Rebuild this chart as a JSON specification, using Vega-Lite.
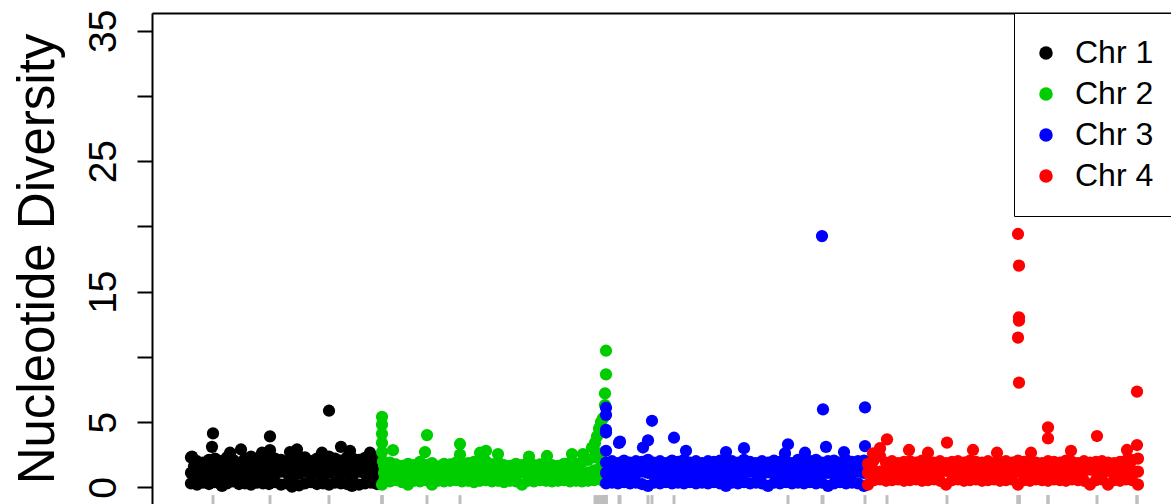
{
"$schema":"https://vega.github.io/schema/vega-lite/v6.json",
"width":1019,"height":491,
"autosize":{"type":"none"},
"padding":{"left":152,"top":13,"right":0,"bottom":0},
"background":"white",
"config":{"view":{"stroke":null},"font":"Liberation Sans"},
"data":{"values":[
{"chr":"Chr 1","pos":39,"pi":0.3},{"chr":"Chr 1","pos":39,"pi":1.1},{"chr":"Chr 1","pos":39,"pi":2.3},
{"chr":"Chr 1","pos":45,"pi":0.2},{"chr":"Chr 1","pos":45,"pi":1.0},{"chr":"Chr 1","pos":45,"pi":2.0},
{"chr":"Chr 1","pos":51,"pi":0.35},{"chr":"Chr 1","pos":51,"pi":1.2},{"chr":"Chr 1","pos":51,"pi":1.9},
{"chr":"Chr 1","pos":57,"pi":0.25},{"chr":"Chr 1","pos":57,"pi":0.9},{"chr":"Chr 1","pos":57,"pi":2.1},
{"chr":"Chr 1","pos":63,"pi":0.4},{"chr":"Chr 1","pos":63,"pi":1.3},{"chr":"Chr 1","pos":63,"pi":2.2},
{"chr":"Chr 1","pos":69,"pi":0.2},{"chr":"Chr 1","pos":69,"pi":1.0},{"chr":"Chr 1","pos":69,"pi":2.0},
{"chr":"Chr 1","pos":75,"pi":0.3},{"chr":"Chr 1","pos":75,"pi":1.1},{"chr":"Chr 1","pos":75,"pi":2.3},
{"chr":"Chr 1","pos":81,"pi":0.45},{"chr":"Chr 1","pos":81,"pi":1.2},{"chr":"Chr 1","pos":81,"pi":2.1},
{"chr":"Chr 1","pos":87,"pi":0.25},{"chr":"Chr 1","pos":87,"pi":0.95},{"chr":"Chr 1","pos":87,"pi":1.9},
{"chr":"Chr 1","pos":93,"pi":0.3},{"chr":"Chr 1","pos":93,"pi":1.15},{"chr":"Chr 1","pos":93,"pi":2.2},
{"chr":"Chr 1","pos":99,"pi":0.2},{"chr":"Chr 1","pos":99,"pi":1.05},{"chr":"Chr 1","pos":99,"pi":2.35},
{"chr":"Chr 1","pos":105,"pi":0.35},{"chr":"Chr 1","pos":105,"pi":1.25},{"chr":"Chr 1","pos":105,"pi":2.1},
{"chr":"Chr 1","pos":111,"pi":0.3},{"chr":"Chr 1","pos":111,"pi":0.9},{"chr":"Chr 1","pos":111,"pi":2.0},
{"chr":"Chr 1","pos":117,"pi":0.25},{"chr":"Chr 1","pos":117,"pi":1.1},{"chr":"Chr 1","pos":117,"pi":2.3},
{"chr":"Chr 1","pos":123,"pi":0.4},{"chr":"Chr 1","pos":123,"pi":1.0},{"chr":"Chr 1","pos":123,"pi":2.2},
{"chr":"Chr 1","pos":129,"pi":0.2},{"chr":"Chr 1","pos":129,"pi":1.2},{"chr":"Chr 1","pos":129,"pi":2.1},
{"chr":"Chr 1","pos":135,"pi":0.3},{"chr":"Chr 1","pos":135,"pi":1.1},{"chr":"Chr 1","pos":135,"pi":1.95},
{"chr":"Chr 1","pos":141,"pi":0.35},{"chr":"Chr 1","pos":141,"pi":0.95},{"chr":"Chr 1","pos":141,"pi":2.2},
{"chr":"Chr 1","pos":147,"pi":0.15},{"chr":"Chr 1","pos":147,"pi":1.05},{"chr":"Chr 1","pos":147,"pi":2.1},
{"chr":"Chr 1","pos":153,"pi":0.3},{"chr":"Chr 1","pos":153,"pi":1.2},{"chr":"Chr 1","pos":153,"pi":2.3},
{"chr":"Chr 1","pos":159,"pi":0.4},{"chr":"Chr 1","pos":159,"pi":1.0},{"chr":"Chr 1","pos":159,"pi":2.0},
{"chr":"Chr 1","pos":165,"pi":0.25},{"chr":"Chr 1","pos":165,"pi":1.15},{"chr":"Chr 1","pos":165,"pi":2.2},
{"chr":"Chr 1","pos":171,"pi":0.3},{"chr":"Chr 1","pos":171,"pi":0.9},{"chr":"Chr 1","pos":171,"pi":2.1},
{"chr":"Chr 1","pos":177,"pi":0.2},{"chr":"Chr 1","pos":177,"pi":1.1},{"chr":"Chr 1","pos":177,"pi":2.35},
{"chr":"Chr 1","pos":183,"pi":0.35},{"chr":"Chr 1","pos":183,"pi":1.25},{"chr":"Chr 1","pos":183,"pi":2.2},
{"chr":"Chr 1","pos":189,"pi":0.3},{"chr":"Chr 1","pos":189,"pi":1.0},{"chr":"Chr 1","pos":189,"pi":2.05},
{"chr":"Chr 1","pos":195,"pi":0.25},{"chr":"Chr 1","pos":195,"pi":1.1},{"chr":"Chr 1","pos":195,"pi":2.3},
{"chr":"Chr 1","pos":201,"pi":0.4},{"chr":"Chr 1","pos":201,"pi":0.95},{"chr":"Chr 1","pos":201,"pi":2.2},
{"chr":"Chr 1","pos":207,"pi":0.2},{"chr":"Chr 1","pos":207,"pi":1.2},{"chr":"Chr 1","pos":207,"pi":2.1},
{"chr":"Chr 1","pos":213,"pi":0.3},{"chr":"Chr 1","pos":213,"pi":1.05},{"chr":"Chr 1","pos":213,"pi":2.25},
{"chr":"Chr 1","pos":219,"pi":0.35},{"chr":"Chr 1","pos":219,"pi":1.15},{"chr":"Chr 1","pos":219,"pi":2.0},
{"chr":"Chr 1","pos":225,"pi":0.25},{"chr":"Chr 1","pos":225,"pi":1.0},{"chr":"Chr 1","pos":225,"pi":2.2},
{"chr":"Chr 1","pos":229,"pi":0.3},{"chr":"Chr 1","pos":229,"pi":1.1},{"chr":"Chr 1","pos":229,"pi":2.1},
{"chr":"Chr 1","pos":42,"pi":1.6},{"chr":"Chr 1","pos":48,"pi":1.7},{"chr":"Chr 1","pos":54,"pi":1.55},
{"chr":"Chr 1","pos":60,"pi":1.65},{"chr":"Chr 1","pos":66,"pi":1.75},{"chr":"Chr 1","pos":72,"pi":1.5},
{"chr":"Chr 1","pos":78,"pi":1.6},{"chr":"Chr 1","pos":84,"pi":1.7},{"chr":"Chr 1","pos":90,"pi":1.65},
{"chr":"Chr 1","pos":96,"pi":1.55},{"chr":"Chr 1","pos":102,"pi":1.75},{"chr":"Chr 1","pos":108,"pi":1.6},
{"chr":"Chr 1","pos":114,"pi":1.5},{"chr":"Chr 1","pos":120,"pi":1.7},{"chr":"Chr 1","pos":126,"pi":1.65},
{"chr":"Chr 1","pos":132,"pi":1.6},{"chr":"Chr 1","pos":138,"pi":1.55},{"chr":"Chr 1","pos":144,"pi":1.75},
{"chr":"Chr 1","pos":150,"pi":1.6},{"chr":"Chr 1","pos":156,"pi":1.7},{"chr":"Chr 1","pos":162,"pi":1.5},
{"chr":"Chr 1","pos":168,"pi":1.65},{"chr":"Chr 1","pos":174,"pi":1.6},{"chr":"Chr 1","pos":180,"pi":1.75},
{"chr":"Chr 1","pos":186,"pi":1.55},{"chr":"Chr 1","pos":192,"pi":1.7},{"chr":"Chr 1","pos":198,"pi":1.6},
{"chr":"Chr 1","pos":204,"pi":1.65},{"chr":"Chr 1","pos":210,"pi":1.5},{"chr":"Chr 1","pos":216,"pi":1.7},
{"chr":"Chr 1","pos":222,"pi":1.6},
{"chr":"Chr 1","pos":61,"pi":4.13},{"chr":"Chr 1","pos":60,"pi":3.1},{"chr":"Chr 1","pos":78,"pi":2.65},
{"chr":"Chr 1","pos":89,"pi":2.9},{"chr":"Chr 1","pos":110,"pi":2.65},{"chr":"Chr 1","pos":118,"pi":3.9},
{"chr":"Chr 1","pos":118,"pi":2.85},{"chr":"Chr 1","pos":138,"pi":2.7},{"chr":"Chr 1","pos":145,"pi":2.9},
{"chr":"Chr 1","pos":177,"pi":5.87},{"chr":"Chr 1","pos":170,"pi":2.65},{"chr":"Chr 1","pos":189,"pi":3.1},
{"chr":"Chr 1","pos":198,"pi":2.8},{"chr":"Chr 1","pos":218,"pi":2.65},{"chr":"Chr 1","pos":40,"pi":2.35},
{"chr":"Chr 1","pos":70,"pi":0.1},{"chr":"Chr 1","pos":140,"pi":0.05},{"chr":"Chr 1","pos":200,"pi":0.1},
{"chr":"Chr 2","pos":232,"pi":0.5},{"chr":"Chr 2","pos":232,"pi":1.1},{"chr":"Chr 2","pos":232,"pi":1.7},
{"chr":"Chr 2","pos":238,"pi":0.45},{"chr":"Chr 2","pos":238,"pi":1.2},{"chr":"Chr 2","pos":238,"pi":1.9},
{"chr":"Chr 2","pos":244,"pi":0.55},{"chr":"Chr 2","pos":244,"pi":1.05},{"chr":"Chr 2","pos":244,"pi":1.75},
{"chr":"Chr 2","pos":250,"pi":0.4},{"chr":"Chr 2","pos":250,"pi":1.15},{"chr":"Chr 2","pos":250,"pi":1.65},
{"chr":"Chr 2","pos":256,"pi":0.2},{"chr":"Chr 2","pos":256,"pi":1.0},{"chr":"Chr 2","pos":256,"pi":1.8},
{"chr":"Chr 2","pos":262,"pi":0.5},{"chr":"Chr 2","pos":262,"pi":1.1},{"chr":"Chr 2","pos":262,"pi":1.7},
{"chr":"Chr 2","pos":268,"pi":0.45},{"chr":"Chr 2","pos":268,"pi":1.2},{"chr":"Chr 2","pos":268,"pi":1.95},
{"chr":"Chr 2","pos":274,"pi":0.55},{"chr":"Chr 2","pos":274,"pi":1.05},{"chr":"Chr 2","pos":274,"pi":1.7},
{"chr":"Chr 2","pos":280,"pi":0.2},{"chr":"Chr 2","pos":280,"pi":1.1},{"chr":"Chr 2","pos":280,"pi":1.85},
{"chr":"Chr 2","pos":286,"pi":0.5},{"chr":"Chr 2","pos":286,"pi":1.15},{"chr":"Chr 2","pos":286,"pi":1.6},
{"chr":"Chr 2","pos":292,"pi":0.45},{"chr":"Chr 2","pos":292,"pi":1.0},{"chr":"Chr 2","pos":292,"pi":1.8},
{"chr":"Chr 2","pos":298,"pi":0.5},{"chr":"Chr 2","pos":298,"pi":1.2},{"chr":"Chr 2","pos":298,"pi":1.75},
{"chr":"Chr 2","pos":304,"pi":0.55},{"chr":"Chr 2","pos":304,"pi":1.1},{"chr":"Chr 2","pos":304,"pi":1.9},
{"chr":"Chr 2","pos":310,"pi":0.45},{"chr":"Chr 2","pos":310,"pi":1.05},{"chr":"Chr 2","pos":310,"pi":1.7},
{"chr":"Chr 2","pos":316,"pi":0.5},{"chr":"Chr 2","pos":316,"pi":1.15},{"chr":"Chr 2","pos":316,"pi":1.85},
{"chr":"Chr 2","pos":322,"pi":0.4},{"chr":"Chr 2","pos":322,"pi":1.1},{"chr":"Chr 2","pos":322,"pi":1.95},
{"chr":"Chr 2","pos":328,"pi":0.5},{"chr":"Chr 2","pos":328,"pi":1.0},{"chr":"Chr 2","pos":328,"pi":1.8},
{"chr":"Chr 2","pos":334,"pi":0.55},{"chr":"Chr 2","pos":334,"pi":1.2},{"chr":"Chr 2","pos":334,"pi":2.0},
{"chr":"Chr 2","pos":340,"pi":0.45},{"chr":"Chr 2","pos":340,"pi":1.1},{"chr":"Chr 2","pos":340,"pi":1.75},
{"chr":"Chr 2","pos":346,"pi":0.5},{"chr":"Chr 2","pos":346,"pi":1.05},{"chr":"Chr 2","pos":346,"pi":1.9},
{"chr":"Chr 2","pos":352,"pi":0.4},{"chr":"Chr 2","pos":352,"pi":1.15},{"chr":"Chr 2","pos":352,"pi":1.7},
{"chr":"Chr 2","pos":358,"pi":0.5},{"chr":"Chr 2","pos":358,"pi":1.1},{"chr":"Chr 2","pos":358,"pi":1.65},
{"chr":"Chr 2","pos":364,"pi":0.45},{"chr":"Chr 2","pos":364,"pi":1.0},{"chr":"Chr 2","pos":364,"pi":1.8},
{"chr":"Chr 2","pos":370,"pi":0.2},{"chr":"Chr 2","pos":370,"pi":1.15},{"chr":"Chr 2","pos":370,"pi":1.7},
{"chr":"Chr 2","pos":376,"pi":0.5},{"chr":"Chr 2","pos":376,"pi":1.1},{"chr":"Chr 2","pos":376,"pi":1.85},
{"chr":"Chr 2","pos":382,"pi":0.45},{"chr":"Chr 2","pos":382,"pi":1.05},{"chr":"Chr 2","pos":382,"pi":1.7},
{"chr":"Chr 2","pos":388,"pi":0.55},{"chr":"Chr 2","pos":388,"pi":1.2},{"chr":"Chr 2","pos":388,"pi":1.75},
{"chr":"Chr 2","pos":394,"pi":0.5},{"chr":"Chr 2","pos":394,"pi":1.1},{"chr":"Chr 2","pos":394,"pi":1.9},
{"chr":"Chr 2","pos":400,"pi":0.45},{"chr":"Chr 2","pos":400,"pi":1.0},{"chr":"Chr 2","pos":400,"pi":1.7},
{"chr":"Chr 2","pos":406,"pi":0.5},{"chr":"Chr 2","pos":406,"pi":1.15},{"chr":"Chr 2","pos":406,"pi":1.65},
{"chr":"Chr 2","pos":412,"pi":0.55},{"chr":"Chr 2","pos":412,"pi":1.1},{"chr":"Chr 2","pos":412,"pi":1.8},
{"chr":"Chr 2","pos":418,"pi":0.45},{"chr":"Chr 2","pos":418,"pi":1.05},{"chr":"Chr 2","pos":418,"pi":1.9},
{"chr":"Chr 2","pos":424,"pi":0.5},{"chr":"Chr 2","pos":424,"pi":1.2},{"chr":"Chr 2","pos":424,"pi":1.8},
{"chr":"Chr 2","pos":430,"pi":0.45},{"chr":"Chr 2","pos":430,"pi":1.1},{"chr":"Chr 2","pos":430,"pi":1.95},
{"chr":"Chr 2","pos":436,"pi":0.5},{"chr":"Chr 2","pos":436,"pi":1.15},{"chr":"Chr 2","pos":436,"pi":2.1},
{"chr":"Chr 2","pos":442,"pi":0.55},{"chr":"Chr 2","pos":442,"pi":1.3},{"chr":"Chr 2","pos":442,"pi":2.3},
{"chr":"Chr 2","pos":448,"pi":0.6},{"chr":"Chr 2","pos":448,"pi":1.5},{"chr":"Chr 2","pos":448,"pi":2.6},
{"chr":"Chr 2","pos":230,"pi":5.4},{"chr":"Chr 2","pos":230,"pi":4.8},{"chr":"Chr 2","pos":230,"pi":4.1},
{"chr":"Chr 2","pos":230,"pi":3.4},{"chr":"Chr 2","pos":230,"pi":2.7},{"chr":"Chr 2","pos":231,"pi":2.0},
{"chr":"Chr 2","pos":230,"pi":0.2},{"chr":"Chr 2","pos":241,"pi":2.85},{"chr":"Chr 2","pos":275,"pi":4.0},
{"chr":"Chr 2","pos":273,"pi":2.7},{"chr":"Chr 2","pos":308,"pi":3.32},{"chr":"Chr 2","pos":308,"pi":2.5},
{"chr":"Chr 2","pos":328,"pi":2.65},{"chr":"Chr 2","pos":334,"pi":2.8},{"chr":"Chr 2","pos":346,"pi":2.55},
{"chr":"Chr 2","pos":377,"pi":2.35},{"chr":"Chr 2","pos":395,"pi":2.4},{"chr":"Chr 2","pos":420,"pi":2.55},
{"chr":"Chr 2","pos":431,"pi":2.55},{"chr":"Chr 2","pos":440,"pi":3.05},{"chr":"Chr 2","pos":445,"pi":3.9},
{"chr":"Chr 2","pos":443,"pi":3.4},{"chr":"Chr 2","pos":447,"pi":4.5},{"chr":"Chr 2","pos":449,"pi":5.0},
{"chr":"Chr 2","pos":451,"pi":5.28},{"chr":"Chr 2","pos":453,"pi":6.3},{"chr":"Chr 2","pos":453,"pi":7.2},
{"chr":"Chr 2","pos":454,"pi":8.66},{"chr":"Chr 2","pos":454,"pi":10.47},{"chr":"Chr 2","pos":450,"pi":2.0},
{"chr":"Chr 2","pos":451,"pi":1.2},{"chr":"Chr 2","pos":451,"pi":0.5},{"chr":"Chr 2","pos":452,"pi":4.4},
{"chr":"Chr 3","pos":454,"pi":0.3},{"chr":"Chr 3","pos":454,"pi":1.1},{"chr":"Chr 3","pos":454,"pi":1.9},
{"chr":"Chr 3","pos":460,"pi":0.35},{"chr":"Chr 3","pos":460,"pi":1.2},{"chr":"Chr 3","pos":460,"pi":2.0},
{"chr":"Chr 3","pos":466,"pi":0.3},{"chr":"Chr 3","pos":466,"pi":1.0},{"chr":"Chr 3","pos":466,"pi":1.85},
{"chr":"Chr 3","pos":472,"pi":0.4},{"chr":"Chr 3","pos":472,"pi":1.15},{"chr":"Chr 3","pos":472,"pi":2.05},
{"chr":"Chr 3","pos":478,"pi":0.3},{"chr":"Chr 3","pos":478,"pi":1.1},{"chr":"Chr 3","pos":478,"pi":1.9},
{"chr":"Chr 3","pos":484,"pi":0.35},{"chr":"Chr 3","pos":484,"pi":1.05},{"chr":"Chr 3","pos":484,"pi":2.0},
{"chr":"Chr 3","pos":490,"pi":0.25},{"chr":"Chr 3","pos":490,"pi":1.2},{"chr":"Chr 3","pos":490,"pi":1.95},
{"chr":"Chr 3","pos":496,"pi":0.1},{"chr":"Chr 3","pos":496,"pi":1.1},{"chr":"Chr 3","pos":496,"pi":2.1},
{"chr":"Chr 3","pos":502,"pi":0.35},{"chr":"Chr 3","pos":502,"pi":1.0},{"chr":"Chr 3","pos":502,"pi":1.9},
{"chr":"Chr 3","pos":508,"pi":0.3},{"chr":"Chr 3","pos":508,"pi":1.15},{"chr":"Chr 3","pos":508,"pi":2.0},
{"chr":"Chr 3","pos":514,"pi":0.4},{"chr":"Chr 3","pos":514,"pi":1.1},{"chr":"Chr 3","pos":514,"pi":1.85},
{"chr":"Chr 3","pos":520,"pi":0.3},{"chr":"Chr 3","pos":520,"pi":1.05},{"chr":"Chr 3","pos":520,"pi":2.05},
{"chr":"Chr 3","pos":526,"pi":0.35},{"chr":"Chr 3","pos":526,"pi":1.2},{"chr":"Chr 3","pos":526,"pi":1.95},
{"chr":"Chr 3","pos":532,"pi":0.3},{"chr":"Chr 3","pos":532,"pi":1.1},{"chr":"Chr 3","pos":532,"pi":2.1},
{"chr":"Chr 3","pos":538,"pi":0.4},{"chr":"Chr 3","pos":538,"pi":1.0},{"chr":"Chr 3","pos":538,"pi":1.9},
{"chr":"Chr 3","pos":544,"pi":0.3},{"chr":"Chr 3","pos":544,"pi":1.15},{"chr":"Chr 3","pos":544,"pi":2.0},
{"chr":"Chr 3","pos":550,"pi":0.35},{"chr":"Chr 3","pos":550,"pi":1.1},{"chr":"Chr 3","pos":550,"pi":1.85},
{"chr":"Chr 3","pos":556,"pi":0.3},{"chr":"Chr 3","pos":556,"pi":1.05},{"chr":"Chr 3","pos":556,"pi":2.0},
{"chr":"Chr 3","pos":562,"pi":0.4},{"chr":"Chr 3","pos":562,"pi":1.2},{"chr":"Chr 3","pos":562,"pi":1.95},
{"chr":"Chr 3","pos":568,"pi":0.3},{"chr":"Chr 3","pos":568,"pi":1.1},{"chr":"Chr 3","pos":568,"pi":2.05},
{"chr":"Chr 3","pos":574,"pi":0.1},{"chr":"Chr 3","pos":574,"pi":1.0},{"chr":"Chr 3","pos":574,"pi":1.9},
{"chr":"Chr 3","pos":580,"pi":0.35},{"chr":"Chr 3","pos":580,"pi":1.15},{"chr":"Chr 3","pos":580,"pi":2.0},
{"chr":"Chr 3","pos":586,"pi":0.3},{"chr":"Chr 3","pos":586,"pi":1.1},{"chr":"Chr 3","pos":586,"pi":1.9},
{"chr":"Chr 3","pos":592,"pi":0.4},{"chr":"Chr 3","pos":592,"pi":1.05},{"chr":"Chr 3","pos":592,"pi":2.1},
{"chr":"Chr 3","pos":598,"pi":0.3},{"chr":"Chr 3","pos":598,"pi":1.2},{"chr":"Chr 3","pos":598,"pi":1.95},
{"chr":"Chr 3","pos":604,"pi":0.35},{"chr":"Chr 3","pos":604,"pi":1.1},{"chr":"Chr 3","pos":604,"pi":1.85},
{"chr":"Chr 3","pos":610,"pi":0.3},{"chr":"Chr 3","pos":610,"pi":1.0},{"chr":"Chr 3","pos":610,"pi":2.0},
{"chr":"Chr 3","pos":616,"pi":0.1},{"chr":"Chr 3","pos":616,"pi":1.15},{"chr":"Chr 3","pos":616,"pi":1.9},
{"chr":"Chr 3","pos":622,"pi":0.35},{"chr":"Chr 3","pos":622,"pi":1.1},{"chr":"Chr 3","pos":622,"pi":2.05},
{"chr":"Chr 3","pos":628,"pi":0.3},{"chr":"Chr 3","pos":628,"pi":1.05},{"chr":"Chr 3","pos":628,"pi":1.95},
{"chr":"Chr 3","pos":634,"pi":0.4},{"chr":"Chr 3","pos":634,"pi":1.2},{"chr":"Chr 3","pos":634,"pi":2.0},
{"chr":"Chr 3","pos":640,"pi":0.3},{"chr":"Chr 3","pos":640,"pi":1.1},{"chr":"Chr 3","pos":640,"pi":1.85},
{"chr":"Chr 3","pos":646,"pi":0.35},{"chr":"Chr 3","pos":646,"pi":1.0},{"chr":"Chr 3","pos":646,"pi":2.1},
{"chr":"Chr 3","pos":652,"pi":0.3},{"chr":"Chr 3","pos":652,"pi":1.15},{"chr":"Chr 3","pos":652,"pi":1.95},
{"chr":"Chr 3","pos":658,"pi":0.4},{"chr":"Chr 3","pos":658,"pi":1.1},{"chr":"Chr 3","pos":658,"pi":2.0},
{"chr":"Chr 3","pos":664,"pi":0.3},{"chr":"Chr 3","pos":664,"pi":1.05},{"chr":"Chr 3","pos":664,"pi":2.1},
{"chr":"Chr 3","pos":670,"pi":0.35},{"chr":"Chr 3","pos":670,"pi":1.2},{"chr":"Chr 3","pos":670,"pi":1.9},
{"chr":"Chr 3","pos":676,"pi":0.1},{"chr":"Chr 3","pos":676,"pi":1.1},{"chr":"Chr 3","pos":676,"pi":2.0},
{"chr":"Chr 3","pos":682,"pi":0.3},{"chr":"Chr 3","pos":682,"pi":1.0},{"chr":"Chr 3","pos":682,"pi":2.05},
{"chr":"Chr 3","pos":688,"pi":0.4},{"chr":"Chr 3","pos":688,"pi":1.15},{"chr":"Chr 3","pos":688,"pi":1.9},
{"chr":"Chr 3","pos":694,"pi":0.3},{"chr":"Chr 3","pos":694,"pi":1.1},{"chr":"Chr 3","pos":694,"pi":2.1},
{"chr":"Chr 3","pos":700,"pi":0.35},{"chr":"Chr 3","pos":700,"pi":1.05},{"chr":"Chr 3","pos":700,"pi":1.95},
{"chr":"Chr 3","pos":706,"pi":0.3},{"chr":"Chr 3","pos":706,"pi":1.2},{"chr":"Chr 3","pos":706,"pi":2.0},
{"chr":"Chr 3","pos":712,"pi":0.1},{"chr":"Chr 3","pos":712,"pi":1.1},{"chr":"Chr 3","pos":712,"pi":2.05},
{"chr":"Chr 3","pos":457,"pi":1.55},{"chr":"Chr 3","pos":463,"pi":1.6},{"chr":"Chr 3","pos":469,"pi":1.5},
{"chr":"Chr 3","pos":475,"pi":1.65},{"chr":"Chr 3","pos":481,"pi":1.55},{"chr":"Chr 3","pos":487,"pi":1.45},
{"chr":"Chr 3","pos":493,"pi":1.6},{"chr":"Chr 3","pos":499,"pi":1.55},{"chr":"Chr 3","pos":505,"pi":1.5},
{"chr":"Chr 3","pos":511,"pi":1.65},{"chr":"Chr 3","pos":517,"pi":1.6},{"chr":"Chr 3","pos":523,"pi":1.5},
{"chr":"Chr 3","pos":529,"pi":1.55},{"chr":"Chr 3","pos":535,"pi":1.6},{"chr":"Chr 3","pos":541,"pi":1.45},
{"chr":"Chr 3","pos":547,"pi":1.65},{"chr":"Chr 3","pos":553,"pi":1.55},{"chr":"Chr 3","pos":559,"pi":1.5},
{"chr":"Chr 3","pos":565,"pi":1.6},{"chr":"Chr 3","pos":571,"pi":1.55},{"chr":"Chr 3","pos":577,"pi":1.65},
{"chr":"Chr 3","pos":583,"pi":1.5},{"chr":"Chr 3","pos":589,"pi":1.6},{"chr":"Chr 3","pos":595,"pi":1.55},
{"chr":"Chr 3","pos":601,"pi":1.45},{"chr":"Chr 3","pos":607,"pi":1.6},{"chr":"Chr 3","pos":613,"pi":1.55},
{"chr":"Chr 3","pos":619,"pi":1.65},{"chr":"Chr 3","pos":625,"pi":1.5},{"chr":"Chr 3","pos":631,"pi":1.6},
{"chr":"Chr 3","pos":637,"pi":1.55},{"chr":"Chr 3","pos":643,"pi":1.5},{"chr":"Chr 3","pos":649,"pi":1.65},
{"chr":"Chr 3","pos":655,"pi":1.6},{"chr":"Chr 3","pos":661,"pi":1.5},{"chr":"Chr 3","pos":667,"pi":1.55},
{"chr":"Chr 3","pos":673,"pi":1.6},{"chr":"Chr 3","pos":679,"pi":1.45},{"chr":"Chr 3","pos":685,"pi":1.65},
{"chr":"Chr 3","pos":691,"pi":1.55},{"chr":"Chr 3","pos":697,"pi":1.5},{"chr":"Chr 3","pos":703,"pi":1.6},
{"chr":"Chr 3","pos":709,"pi":1.55},
{"chr":"Chr 3","pos":454,"pi":6.1},{"chr":"Chr 3","pos":454,"pi":5.55},{"chr":"Chr 3","pos":454,"pi":4.4},
{"chr":"Chr 3","pos":454,"pi":4.2},{"chr":"Chr 3","pos":454,"pi":2.8},{"chr":"Chr 3","pos":467,"pi":3.4},
{"chr":"Chr 3","pos":468,"pi":3.5},{"chr":"Chr 3","pos":500,"pi":5.1},{"chr":"Chr 3","pos":496,"pi":3.6},
{"chr":"Chr 3","pos":491,"pi":3.05},{"chr":"Chr 3","pos":522,"pi":3.8},{"chr":"Chr 3","pos":534,"pi":2.8},
{"chr":"Chr 3","pos":574,"pi":2.7},{"chr":"Chr 3","pos":592,"pi":3.0},{"chr":"Chr 3","pos":636,"pi":3.3},
{"chr":"Chr 3","pos":633,"pi":2.6},{"chr":"Chr 3","pos":653,"pi":2.65},{"chr":"Chr 3","pos":670,"pi":19.26},
{"chr":"Chr 3","pos":671,"pi":5.98},{"chr":"Chr 3","pos":674,"pi":3.1},{"chr":"Chr 3","pos":692,"pi":2.7},
{"chr":"Chr 3","pos":713,"pi":6.13},{"chr":"Chr 3","pos":713,"pi":3.16},
{"chr":"Chr 4","pos":716,"pi":0.2},{"chr":"Chr 4","pos":716,"pi":1.1},{"chr":"Chr 4","pos":716,"pi":1.8},
{"chr":"Chr 4","pos":722,"pi":0.55},{"chr":"Chr 4","pos":722,"pi":1.3},{"chr":"Chr 4","pos":722,"pi":2.1},
{"chr":"Chr 4","pos":728,"pi":0.6},{"chr":"Chr 4","pos":728,"pi":1.2},{"chr":"Chr 4","pos":728,"pi":2.4},
{"chr":"Chr 4","pos":734,"pi":0.5},{"chr":"Chr 4","pos":734,"pi":1.25},{"chr":"Chr 4","pos":734,"pi":1.9},
{"chr":"Chr 4","pos":740,"pi":0.55},{"chr":"Chr 4","pos":740,"pi":1.3},{"chr":"Chr 4","pos":740,"pi":2.0},
{"chr":"Chr 4","pos":746,"pi":0.6},{"chr":"Chr 4","pos":746,"pi":1.2},{"chr":"Chr 4","pos":746,"pi":1.85},
{"chr":"Chr 4","pos":752,"pi":0.5},{"chr":"Chr 4","pos":752,"pi":1.35},{"chr":"Chr 4","pos":752,"pi":1.95},
{"chr":"Chr 4","pos":758,"pi":0.55},{"chr":"Chr 4","pos":758,"pi":1.25},{"chr":"Chr 4","pos":758,"pi":2.0},
{"chr":"Chr 4","pos":764,"pi":0.6},{"chr":"Chr 4","pos":764,"pi":1.2},{"chr":"Chr 4","pos":764,"pi":1.9},
{"chr":"Chr 4","pos":770,"pi":0.5},{"chr":"Chr 4","pos":770,"pi":1.3},{"chr":"Chr 4","pos":770,"pi":2.05},
{"chr":"Chr 4","pos":776,"pi":0.55},{"chr":"Chr 4","pos":776,"pi":1.25},{"chr":"Chr 4","pos":776,"pi":1.95},
{"chr":"Chr 4","pos":782,"pi":0.6},{"chr":"Chr 4","pos":782,"pi":1.2},{"chr":"Chr 4","pos":782,"pi":1.9},
{"chr":"Chr 4","pos":788,"pi":0.5},{"chr":"Chr 4","pos":788,"pi":1.35},{"chr":"Chr 4","pos":788,"pi":2.0},
{"chr":"Chr 4","pos":794,"pi":0.2},{"chr":"Chr 4","pos":794,"pi":1.25},{"chr":"Chr 4","pos":794,"pi":1.85},
{"chr":"Chr 4","pos":800,"pi":0.55},{"chr":"Chr 4","pos":800,"pi":1.3},{"chr":"Chr 4","pos":800,"pi":1.95},
{"chr":"Chr 4","pos":806,"pi":0.6},{"chr":"Chr 4","pos":806,"pi":1.2},{"chr":"Chr 4","pos":806,"pi":2.0},
{"chr":"Chr 4","pos":812,"pi":0.5},{"chr":"Chr 4","pos":812,"pi":1.25},{"chr":"Chr 4","pos":812,"pi":1.9},
{"chr":"Chr 4","pos":818,"pi":0.55},{"chr":"Chr 4","pos":818,"pi":1.35},{"chr":"Chr 4","pos":818,"pi":2.05},
{"chr":"Chr 4","pos":824,"pi":0.6},{"chr":"Chr 4","pos":824,"pi":1.2},{"chr":"Chr 4","pos":824,"pi":1.95},
{"chr":"Chr 4","pos":830,"pi":0.5},{"chr":"Chr 4","pos":830,"pi":1.3},{"chr":"Chr 4","pos":830,"pi":1.9},
{"chr":"Chr 4","pos":836,"pi":0.55},{"chr":"Chr 4","pos":836,"pi":1.25},{"chr":"Chr 4","pos":836,"pi":2.0},
{"chr":"Chr 4","pos":842,"pi":0.6},{"chr":"Chr 4","pos":842,"pi":1.2},{"chr":"Chr 4","pos":842,"pi":1.85},
{"chr":"Chr 4","pos":848,"pi":0.5},{"chr":"Chr 4","pos":848,"pi":1.35},{"chr":"Chr 4","pos":848,"pi":1.95},
{"chr":"Chr 4","pos":854,"pi":0.55},{"chr":"Chr 4","pos":854,"pi":1.25},{"chr":"Chr 4","pos":854,"pi":2.0},
{"chr":"Chr 4","pos":860,"pi":0.6},{"chr":"Chr 4","pos":860,"pi":1.3},{"chr":"Chr 4","pos":860,"pi":1.9},
{"chr":"Chr 4","pos":866,"pi":0.2},{"chr":"Chr 4","pos":866,"pi":1.2},{"chr":"Chr 4","pos":866,"pi":2.05},
{"chr":"Chr 4","pos":872,"pi":0.55},{"chr":"Chr 4","pos":872,"pi":1.25},{"chr":"Chr 4","pos":872,"pi":1.95},
{"chr":"Chr 4","pos":878,"pi":0.5},{"chr":"Chr 4","pos":878,"pi":1.35},{"chr":"Chr 4","pos":878,"pi":2.0},
{"chr":"Chr 4","pos":884,"pi":0.6},{"chr":"Chr 4","pos":884,"pi":1.2},{"chr":"Chr 4","pos":884,"pi":1.9},
{"chr":"Chr 4","pos":890,"pi":0.55},{"chr":"Chr 4","pos":890,"pi":1.3},{"chr":"Chr 4","pos":890,"pi":1.85},
{"chr":"Chr 4","pos":896,"pi":0.5},{"chr":"Chr 4","pos":896,"pi":1.25},{"chr":"Chr 4","pos":896,"pi":2.0},
{"chr":"Chr 4","pos":902,"pi":0.6},{"chr":"Chr 4","pos":902,"pi":1.2},{"chr":"Chr 4","pos":902,"pi":1.95},
{"chr":"Chr 4","pos":908,"pi":0.55},{"chr":"Chr 4","pos":908,"pi":1.35},{"chr":"Chr 4","pos":908,"pi":1.9},
{"chr":"Chr 4","pos":914,"pi":0.5},{"chr":"Chr 4","pos":914,"pi":1.25},{"chr":"Chr 4","pos":914,"pi":2.05},
{"chr":"Chr 4","pos":920,"pi":0.6},{"chr":"Chr 4","pos":920,"pi":1.3},{"chr":"Chr 4","pos":920,"pi":1.95},
{"chr":"Chr 4","pos":926,"pi":0.55},{"chr":"Chr 4","pos":926,"pi":1.2},{"chr":"Chr 4","pos":926,"pi":1.85},
{"chr":"Chr 4","pos":932,"pi":0.5},{"chr":"Chr 4","pos":932,"pi":1.25},{"chr":"Chr 4","pos":932,"pi":2.0},
{"chr":"Chr 4","pos":938,"pi":0.2},{"chr":"Chr 4","pos":938,"pi":1.35},{"chr":"Chr 4","pos":938,"pi":1.9},
{"chr":"Chr 4","pos":944,"pi":0.55},{"chr":"Chr 4","pos":944,"pi":1.2},{"chr":"Chr 4","pos":944,"pi":1.95},
{"chr":"Chr 4","pos":950,"pi":0.6},{"chr":"Chr 4","pos":950,"pi":1.3},{"chr":"Chr 4","pos":950,"pi":2.0},
{"chr":"Chr 4","pos":956,"pi":0.2},{"chr":"Chr 4","pos":956,"pi":1.25},{"chr":"Chr 4","pos":956,"pi":1.9},
{"chr":"Chr 4","pos":962,"pi":0.55},{"chr":"Chr 4","pos":962,"pi":1.2},{"chr":"Chr 4","pos":962,"pi":1.85},
{"chr":"Chr 4","pos":968,"pi":0.5},{"chr":"Chr 4","pos":968,"pi":1.35},{"chr":"Chr 4","pos":968,"pi":1.95},
{"chr":"Chr 4","pos":974,"pi":0.6},{"chr":"Chr 4","pos":974,"pi":1.25},{"chr":"Chr 4","pos":974,"pi":2.05},
{"chr":"Chr 4","pos":980,"pi":0.55},{"chr":"Chr 4","pos":980,"pi":1.3},{"chr":"Chr 4","pos":980,"pi":2.1},
{"chr":"Chr 4","pos":986,"pi":0.2},{"chr":"Chr 4","pos":986,"pi":1.2},{"chr":"Chr 4","pos":986,"pi":2.2},
{"chr":"Chr 4","pos":735,"pi":3.68},{"chr":"Chr 4","pos":728,"pi":3.0},{"chr":"Chr 4","pos":721,"pi":2.6},
{"chr":"Chr 4","pos":795,"pi":3.42},{"chr":"Chr 4","pos":757,"pi":2.86},{"chr":"Chr 4","pos":776,"pi":2.65},
{"chr":"Chr 4","pos":821,"pi":2.86},{"chr":"Chr 4","pos":845,"pi":2.65},{"chr":"Chr 4","pos":879,"pi":2.65},
{"chr":"Chr 4","pos":919,"pi":2.8},{"chr":"Chr 4","pos":985,"pi":3.24},{"chr":"Chr 4","pos":975,"pi":2.86},
{"chr":"Chr 4","pos":985,"pi":7.33},{"chr":"Chr 4","pos":896,"pi":4.6},{"chr":"Chr 4","pos":896,"pi":3.75},
{"chr":"Chr 4","pos":945,"pi":3.93},{"chr":"Chr 4","pos":866,"pi":19.42},{"chr":"Chr 4","pos":867,"pi":16.99},
{"chr":"Chr 4","pos":867,"pi":13.03},{"chr":"Chr 4","pos":867,"pi":12.77},{"chr":"Chr 4","pos":866,"pi":11.47},
{"chr":"Chr 4","pos":867,"pi":8.02}
]},
"layer":[
{"transform":[{"filter":"datum.pi > 3.2"}],
 "mark":{"type":"rule","color":"#BEBEBE","strokeWidth":3},
 "encoding":{"x":{"field":"pos","type":"quantitative"},"y":{"datum":-0.6},"y2":{"datum":-1.28}}},
{"mark":{"type":"circle","size":150,"opacity":1},
 "encoding":{
  "x":{"field":"pos","type":"quantitative","scale":{"domain":[0,1019],"nice":false,"zero":false},
       "axis":{"orient":"top","domain":true,"domainColor":"black","domainWidth":2,"ticks":false,"labels":false,"title":null,"grid":false}},
  "y":{"field":"pi","type":"quantitative","scale":{"domain":[-1.28,36.36],"nice":false,"zero":false},
       "axis":{"values":[0,5,10,15,20,25,30,35],"labelExpr":"datum.value % 10 == 0 && datum.value != 0 ? '' : datum.label",
               "grid":false,"domainColor":"black","domainWidth":2,"tickColor":"black","tickWidth":2,"tickSize":15,
               "labelAngle":-90,"labelAlign":"center","labelBaseline":"alphabetic","labelPadding":22,
               "labelFontSize":39,"labelFont":"Liberation Sans","labelColor":"black","labelOverlap":false,
               "title":"Nucleotide Diversity","titleFontSize":51,"titleFont":"Liberation Sans","titleFontWeight":"normal",
               "titleColor":"black","titlePadding":20}},
  "color":{"field":"chr","type":"nominal",
       "scale":{"domain":["Chr 1","Chr 2","Chr 3","Chr 4"],"range":["#000000","#00CD00","#0000FF","#FF0000"]},
       "legend":{"title":null,"orient":"none","legendX":862,"legendY":0,"strokeColor":"black","fillColor":"white",
                 "padding":24,"symbolType":"circle","symbolSize":182,"symbolStrokeWidth":0,"symbolOffset":-8,"labelFontSize":32,
                 "labelFont":"Liberation Sans","labelColor":"black","labelOffset":13,"rowPadding":9}}
 }}
]
}
